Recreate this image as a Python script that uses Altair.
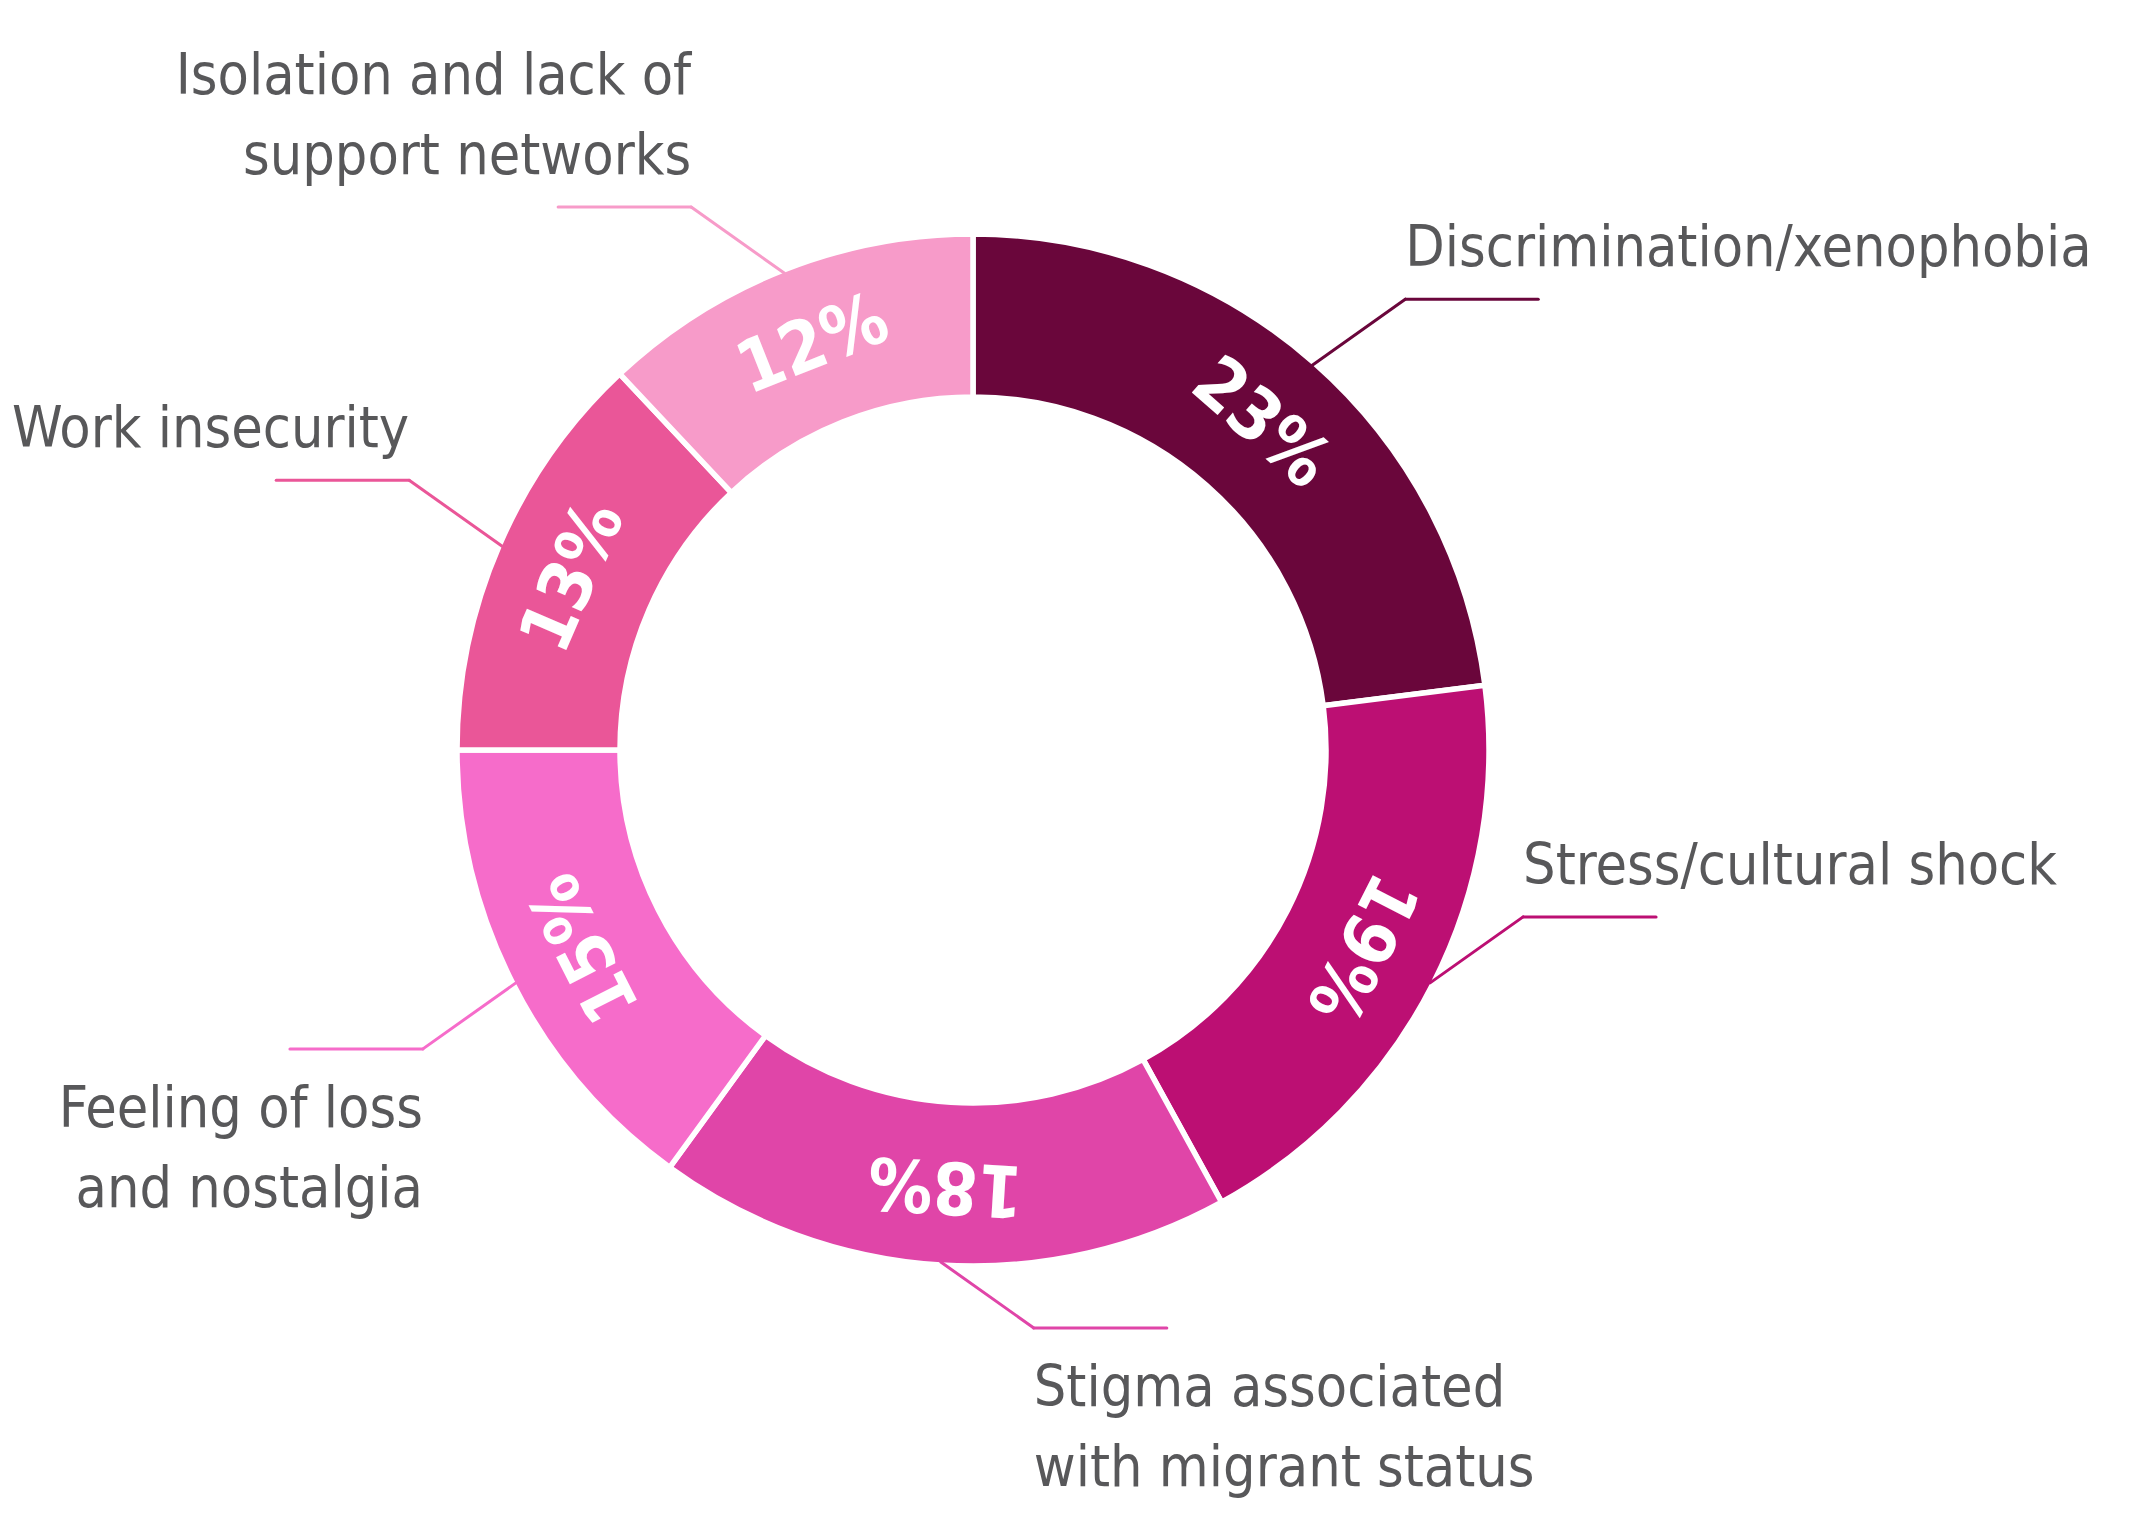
import altair as alt
import pandas as pd

# ---- data ----
categories = [
    "Discrimination/xenophobia",
    "Stress/cultural shock",
    "Stigma associated with migrant status",
    "Feeling of loss and nostalgia",
    "Work insecurity",
    "Isolation and lack of support networks",
]
values = [23, 19, 18, 15, 13, 12]
label_lines = [
    ["Discrimination/xenophobia"],
    ["Stress/cultural shock"],
    ["Stigma associated", "with migrant status"],
    ["Feeling of loss", "and nostalgia"],
    ["Work insecurity"],
    ["Isolation and lack of", "support networks"],
]
colors = ["#6A063B", "#BC0F73", "#E045A8", "#F66CCA", "#EA5698", "#F79BC9"]

df = pd.DataFrame({
    "idx": list(range(len(categories))),
    "category": categories,
    "value": values,
    "pct": [f"{v}%" for v in values],
    "label": ["\n".join(l) for l in label_lines],
    "nlines": [len(l) for l in label_lines],
})

# ---- layout ----
W, H = 1930, 1484
R_OUT, R_IN, R_TXT, R_LEAD = 516, 353, 435, 513
LABEL_FONT = "DejaVu Sans Condensed, DejaVu Sans, sans-serif"
PCT_FONT = "DejaVu Sans Condensed, DejaVu Sans, sans-serif"
GRAY = "#58585A"

color = alt.Color("category:N", scale=alt.Scale(domain=categories, range=colors), legend=None)
xs = alt.Scale(domain=[-W / 2, W / 2], nice=False, zero=False)
ys = alt.Scale(domain=[-H / 2, H / 2], nice=False, zero=False)

base = (
    alt.Chart(df)
    .transform_joinaggregate(total="sum(value)")
    .transform_window(cum="sum(value)", sort=[alt.SortField("idx", order="ascending")], frame=[None, 0])
    .transform_calculate(mid="(datum.cum - datum.value / 2) / datum.total * 360")
    .transform_calculate(rad="datum.mid * PI / 180")
    .transform_calculate(side="datum.mid < 200 ? 1 : -1")
    .transform_calculate(vdir="(datum.mid < 150 || datum.mid > 270) ? 1 : -1")
    .transform_calculate(xs=f"{R_LEAD} * sin(datum.rad)")
    .transform_calculate(ys=f"{R_LEAD} * cos(datum.rad)")
    .transform_calculate(xe="datum.xs + datum.side * 93")
    .transform_calculate(ye="datum.ys + datum.vdir * 66")
    .transform_calculate(xend="datum.xe + datum.side * 133")
    .transform_calculate(ty="datum.vdir > 0 ? datum.ye + 33 + (datum.nlines - 1) * 80 : datum.ye - 78")
)

arcs = base.mark_arc(outerRadius=R_OUT, innerRadius=R_IN, stroke="white", strokeWidth=5.5).encode(
    theta=alt.Theta("value:Q", stack=True),
    color=color,
    order=alt.Order("idx:Q"),
)

pct = base.mark_text(
    radius=R_TXT, font=PCT_FONT, fontSize=72, fontWeight="bold", color="white",
    align="center", baseline="middle",
).encode(
    theta=alt.Theta("value:Q", stack=True),
    text="pct:N",
    angle=alt.Angle("mid:Q", scale=None),
    order=alt.Order("idx:Q"),
)

lead1 = base.mark_rule(strokeWidth=3, strokeCap="round").encode(
    x=alt.X("xs:Q", scale=xs, axis=None),
    y=alt.Y("ys:Q", scale=ys, axis=None),
    x2="xe:Q", y2="ye:Q",
    color=color,
)
lead2 = base.mark_rule(strokeWidth=3, strokeCap="round").encode(
    x=alt.X("xe:Q", scale=xs, axis=None),
    y=alt.Y("ye:Q", scale=ys, axis=None),
    x2="xend:Q", y2="ye:Q",
    color=color,
)

label_kw = dict(font=LABEL_FONT, fontSize=57, lineHeight=80, lineBreak="\n", color=GRAY, baseline="alphabetic")
lab_r = base.transform_filter("datum.side > 0").mark_text(align="left", **label_kw).encode(
    x=alt.X("xe:Q", scale=xs, axis=None), y=alt.Y("ty:Q", scale=ys, axis=None), text="label:N"
)
lab_l = base.transform_filter("datum.side < 0").mark_text(align="right", **label_kw).encode(
    x=alt.X("xe:Q", scale=xs, axis=None), y=alt.Y("ty:Q", scale=ys, axis=None), text="label:N"
)

chart = (
    alt.layer(arcs, pct, lead1, lead2, lab_r, lab_l)
    .properties(width=W, height=H, padding={"left": 0, "top": 0, "right": 6, "bottom": 6})
    .configure_view(stroke=None)
)

chart.save("out.html", embed_options={"renderer": "svg", "actions": False})
